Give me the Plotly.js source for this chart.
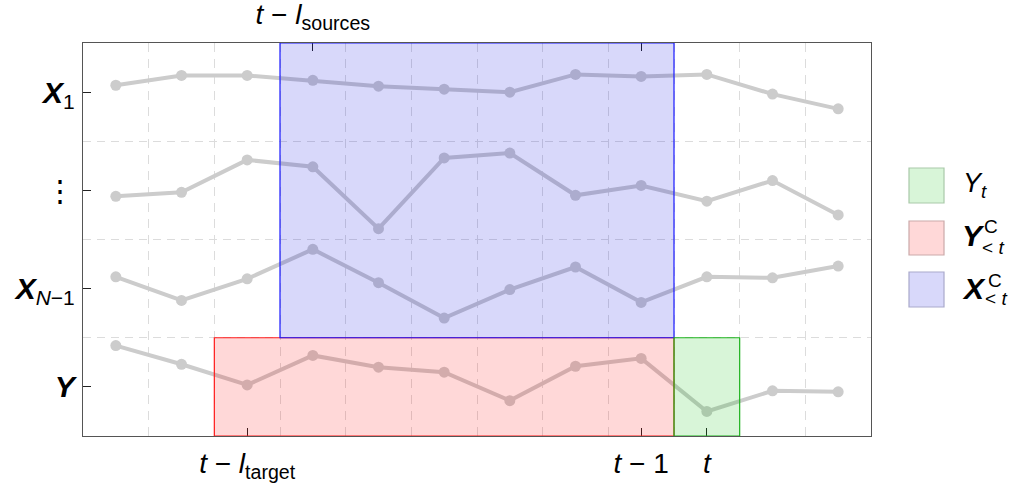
<!DOCTYPE html>
<html>
<head>
<meta charset="utf-8">
<script src="https://cdn.plot.ly/plotly-3.0.1.min.js"></script>
<style>html,body{margin:0;padding:0;background:#fff;} #chart{width:1014px;height:487px;}</style>
</head>
<body>
<div id="chart"></div>
<script>
// ---- data ----
var steps = [1, 2, 3, 4, 5, 6, 7, 8, 9, 10, 11, 12];
var x1Vals   = [3.07, 3.17, 3.17, 3.12, 3.06, 3.03, 3.00, 3.18, 3.16, 3.18, 2.98, 2.83];
var dotsVals = [1.94, 1.98, 2.31, 2.24, 1.61, 2.33, 2.38, 1.95, 2.05, 1.89, 2.10, 1.75];
var xN1Vals  = [1.12, 0.88, 1.10, 1.40, 1.06, 0.70, 0.99, 1.22, 0.86, 1.12, 1.11, 1.23];
var yVals    = [0.42, 0.23, 0.02, 0.32, 0.20, 0.15, -0.14, 0.21, 0.29, -0.25, -0.04, -0.05];

var seriesRows = [0, 1, 2, 3];
var rowLabels = ['<b><i>Y</i></b>', '<b><i>X</i></b><sub><i>N</i>\u22121</sub>', '\u22EE', '<b><i>X</i></b><sub>1</sub>'];

var bottomTickVals = [3, 9, 10];
var bottomTickText = ['<i>t</i> \u2212 <i>l</i><sub>target</sub>', '<i>t</i> \u2212 1', '<i>t</i>'];
var topTickVals = [4, 9];
var topTickText = ['<i>t</i> \u2212 <i>l</i><sub>sources</sub>', ''];

// windows: [xStart, xEnd, yStart, yEnd]
var sourcesWindow = [3.5, 9.5, 0.5, 3.5];
var targetWindow  = [2.5, 9.5, -0.5, 0.5];
var presentWindow = [9.5, 10.5, -0.5, 0.5];

var xGrid = [1.5, 2.5, 3.5, 4.5, 5.5, 6.5, 7.5, 8.5, 9.5, 10.5, 11.5];
var yGrid = [0.5, 1.5, 2.5];

// ---- layout helpers ----
var L = 83, R = 871, T = 43, B = 436;
function px(x) { return (x - L) / (R - L); }
function py(y) { return (B - y) / (B - T); }

var lineStyle = {color: '#cccccc', width: 4};
var markerStyle = {color: '#cccccc', size: 11};
function series(vals) {
  return {x: steps, y: vals, mode: 'lines+markers', line: lineStyle, marker: markerStyle,
          showlegend: false, hoverinfo: 'skip', cliponaxis: false};
}
var traces = [series(x1Vals), series(dotsVals), series(xN1Vals), series(yVals),
  {x: [null], y: [null], xaxis: 'x2', showlegend: false, hoverinfo: 'skip'}];

function rect(w, fill, line) {
  return {type: 'rect', xref: 'x', yref: 'y', x0: w[0], x1: w[1], y0: w[2], y1: w[3],
          fillcolor: fill, line: {color: line, width: 1.2}, layer: 'above'};
}
var shapes = [
  rect(targetWindow, 'rgba(255,0,0,0.153)', '#ff1a1a'),
  rect(sourcesWindow, 'rgba(0,0,220,0.153)', '#1a1aff'),
  rect(presentWindow, 'rgba(0,190,0,0.153)', '#1db31d')
];
// legend swatches
function swatch(x0, y0, x1, y1, fill, line) {
  return {type: 'rect', xref: 'paper', yref: 'paper', x0: px(x0), x1: px(x1), y0: py(y1), y1: py(y0),
          fillcolor: fill, line: {color: line, width: 1.2}};
}
shapes.push(swatch(909, 168, 944, 203, '#d8f5d8', '#a9c9a9'));
shapes.push(swatch(909, 221, 944, 255, '#ffd8d8', '#cba9a9'));
shapes.push(swatch(909, 272, 944, 307, '#d8d8fa', '#a9a9cb'));

var fam = 'Liberation Sans, Arial, sans-serif';
function ann(text, x, y, size) {
  return {text: text, xref: 'paper', yref: 'paper', x: px(x), y: py(y), xanchor: 'left', yanchor: 'middle',
          showarrow: false, font: {family: fam, size: size, color: '#000'}};
}
var annotations = [
  ann('<i>Y</i><sub><i>t</i></sub>', 961, 185, 27),
  ann('<b><i>Y</i></b>', 960, 235, 30),
  ann('C', 982, 226, 19),
  ann('&lt; <i>t</i>', 980, 248, 19),
  ann('<b><i>X</i></b>', 960, 288, 30),
  ann('C', 986, 280, 19),
  ann('&lt; <i>t</i>', 983, 298, 19)
];

var layout = {
  width: 1014, height: 487,
  margin: {l: L, r: 1014 - R, t: T, b: 487 - B, pad: 0},
  paper_bgcolor: '#fff', plot_bgcolor: '#fff',
  font: {family: fam, color: '#000'},
  xaxis: {
    range: [0.5, 12.5], showgrid: false, zeroline: false,
    showline: true, mirror: true, linecolor: '#555', linewidth: 1.2,
    tickmode: 'array', tickvals: bottomTickVals, ticktext: bottomTickText,
    ticks: 'inside', ticklen: 8, tickwidth: 1, tickcolor: '#222',
    tickfont: {family: fam, size: 28, color: '#000'}, ticklabelstandoff: 2,
    minor: {tickmode: 'array', tickvals: xGrid, showgrid: true, gridcolor: '#dcdcdc', gridwidth: 1, griddash: '9px,7px', ticks: ''}
  },
  xaxis2: {
    overlaying: 'x', side: 'top', range: [0.5, 12.5], showgrid: false, zeroline: false, showline: false,
    tickmode: 'array', tickvals: topTickVals, ticktext: topTickText,
    ticks: 'inside', ticklen: 8, tickwidth: 1, tickcolor: '#222',
    tickfont: {family: fam, size: 28, color: '#000'}, ticklabelstandoff: 12
  },
  yaxis: {
    range: [-0.5, 3.5], showgrid: false, zeroline: false,
    showline: true, mirror: true, linecolor: '#555', linewidth: 1.2,
    tickmode: 'array', tickvals: seriesRows, ticktext: rowLabels,
    ticks: 'inside', ticklen: 8, tickwidth: 1, tickcolor: '#222',
    tickfont: {family: fam, size: 30, color: '#000'}, ticklabelstandoff: 1,
    minor: {tickmode: 'array', tickvals: yGrid, showgrid: true, gridcolor: '#dcdcdc', gridwidth: 1, griddash: '8px,6px', ticks: ''}
  },
  shapes: shapes,
  annotations: annotations,
  showlegend: false
};

Plotly.newPlot('chart', traces, layout, {staticPlot: true, displayModeBar: false});
</script>
</body>
</html>
